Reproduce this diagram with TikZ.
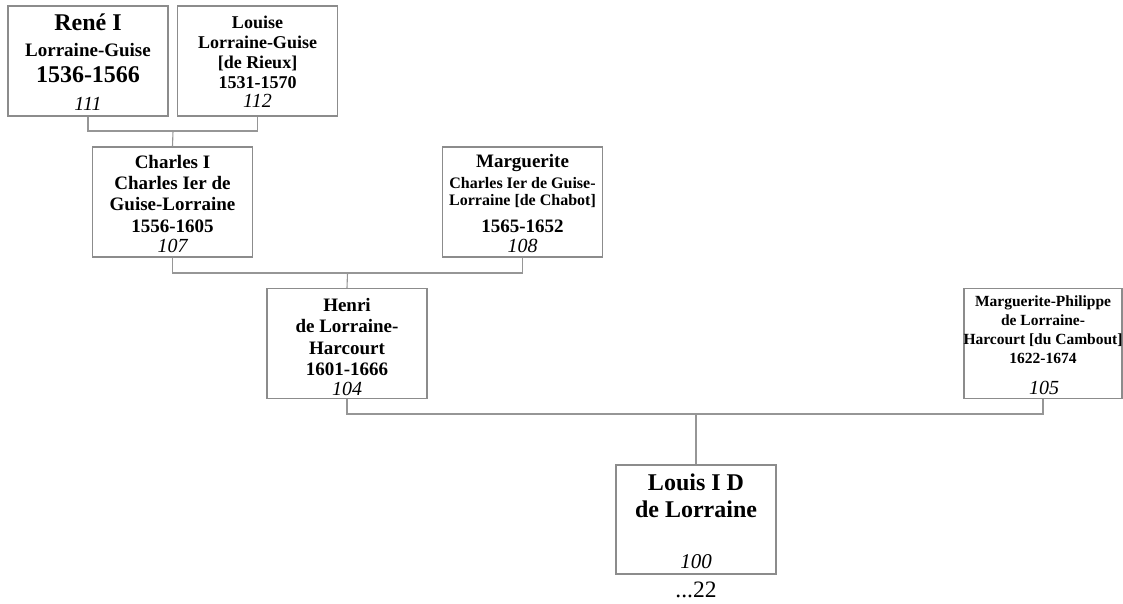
\documentclass[tikz,border=0pt]{standalone}
\usepackage{fontspec}
\setmainfont{Liberation Serif}
\definecolor{linegray}{RGB}{150,150,150}
\definecolor{boxgray}{RGB}{140,140,140}
\newcommand{\fs}[1]{\fontsize{#1}{#1}\selectfont}
\tikzset{
  person/.style={draw=boxgray, line width=1.1pt, minimum width=160pt, minimum height=110pt, inner sep=0pt},
  link/.style={draw=linegray, line width=1.1pt},
  txt/.style={anchor=base, inner sep=0pt, font=\bfseries},
  num/.style={anchor=base, inner sep=0pt, font=\itshape\fs{20}},
}
\begin{document}
\begin{tikzpicture}[x=1pt,y=-1pt]
\useasboundingbox (0,0) rectangle (1123,604);
% boxes
\node[person] (b111) at (88,61) {};
\node[person] (b112) at (257.5,61) {};
\node[person] (b107) at (172.5,202) {};
\node[person] (b108) at (522.5,202) {};
\node[person] (b104) at (347,343.5) {};
\node[person, minimum width=158pt] (b105) at (1043,343.5) {};
\node[person, minimum height=109pt] (b100) at (696,519.5) {};
% texts 111
\node[txt, font=\bfseries\fs{24}] (t111a) at (88,31) {René I};
\node[txt, font=\bfseries\fs{19}] (t111b) at (88,57) {Lorraine-Guise};
\node[txt, font=\bfseries\fs{24}] (t111c) at (88,83) {1536-1566};
\node[num] (t111d) at (88,111) {111};
% texts 112
\node[txt, font=\bfseries\fs{18}] (t112a) at (257.5,28.5) {Louise};
\node[txt, font=\bfseries\fs{18}] (t112b) at (257.5,48.5) {Lorraine-Guise};
\node[txt, font=\bfseries\fs{18}] (t112c) at (257.5,68.5) {[de Rieux]};
\node[txt, font=\bfseries\fs{18}] (t112d) at (257.5,88.5) {1531-1570};
\node[num] (t112e) at (257.5,108) {112};
% texts 107
\node[txt, font=\bfseries\fs{19}] (t107a) at (172.5,168) {Charles I};
\node[txt, font=\bfseries\fs{19}] (t107b) at (172.5,189.5) {Charles Ier de};
\node[txt, font=\bfseries\fs{19}] (t107c) at (172.5,210.5) {Guise-Lorraine};
\node[txt, font=\bfseries\fs{19}] (t107d) at (172.5,232) {1556-1605};
\node[num] (t107e) at (172.5,252) {107};
% texts 108
\node[txt, font=\bfseries\fs{19}] (t108a) at (522.5,167.5) {Marguerite};
\node[txt, font=\bfseries\fs{16}] (t108b) at (522.5,188) {Charles Ier de Guise-};
\node[txt, font=\bfseries\fs{16}] (t108c) at (522.5,205.5) {Lorraine [de Chabot]};
\node[txt, font=\bfseries\fs{19}] (t108d) at (522.5,232) {1565-1652};
\node[num] (t108e) at (522.5,252) {108};
% texts 104
\node[txt, font=\bfseries\fs{19}] (t104a) at (347,311.5) {Henri};
\node[txt, font=\bfseries\fs{19}] (t104b) at (347,332.5) {de Lorraine-};
\node[txt, font=\bfseries\fs{19}] (t104c) at (347,354) {Harcourt};
\node[txt, font=\bfseries\fs{19}] (t104d) at (347,375) {1601-1666};
\node[num] (t104e) at (347,395) {104};
% texts 105
\node[txt, font=\bfseries\fs{15.5}] (t105a) at (1043,306.5) {Marguerite-Philippe};
\node[txt, font=\bfseries\fs{15.5}] (t105b) at (1043,325) {de Lorraine-};
\node[txt, font=\bfseries\fs{15.5}] (t105c) at (1043,344) {Harcourt [du Cambout]};
\node[txt, font=\bfseries\fs{15.5}] (t105d) at (1043,363) {1622-1674};
\node[num] (t105e) at (1044,394) {105};
% texts 100
\node[txt, font=\bfseries\fs{24}] (t100a) at (696,490) {Louis I D};
\node[txt, font=\bfseries\fs{24}] (t100b) at (696,517) {de Lorraine};
\node[num, font=\itshape\fs{21}] (t100c) at (696,568) {100};
\node[anchor=base, inner sep=0pt, font=\fs{23.5}] (t100d) at (696,597) {...22};
% connectors
\coordinate (j1) at (173,131);
\coordinate (j2) at (347.5,273);
\coordinate (j3) at (696,414);
\draw[link] (b111.south) |- (j1) -| (b112.south);
\draw[link] (j1) -- (b107.north);
\draw[link] (b107.south) |- (j2) -| (b108.south);
\draw[link] (j2) -- (b104.north);
\draw[link] (b104.south) |- (j3) -| (b105.south);
\draw[link] (j3) -- (b100.north);
\end{tikzpicture}
\end{document}
